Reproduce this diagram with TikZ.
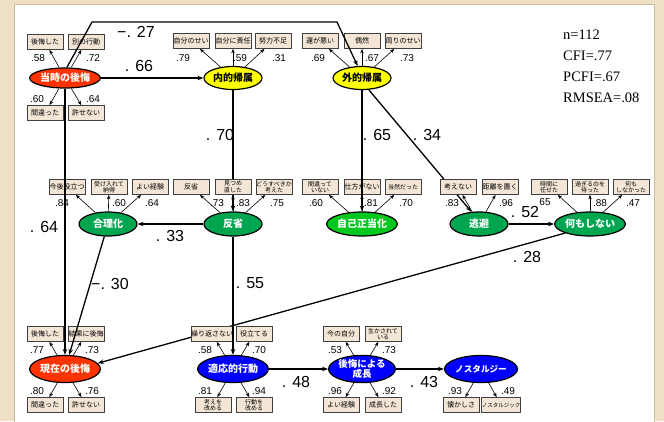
\documentclass[tikz,border=0pt]{standalone}
\usepackage{fontspec}
\setmainfont{Liberation Sans}
\newfontfamily\jp{Noto Sans CJK JP}
\newfontfamily\statfont{Liberation Serif}
\usetikzlibrary{shapes.geometric,arrows.meta}

\definecolor{bgbeige}{HTML}{EFE0C5}
\definecolor{panelline}{HTML}{CDBD9F}
\definecolor{boxfill}{HTML}{F3E6D6}
\definecolor{latred}{HTML}{FF3300}
\definecolor{latyellow}{HTML}{FFFF00}
\definecolor{latgreen}{HTML}{00A64F}
\definecolor{latgreenb}{HTML}{00C81E}
\definecolor{latblue}{HTML}{0000FF}

\pgfdeclarelayer{back}
\pgfsetlayers{back,main}

\tikzset{
  obs/.style={draw=black!75, fill=boxfill, line width=0.7pt,
    minimum width=36pt, minimum height=15pt, inner sep=0pt,
    font=\jp\fontsize{7}{7.5}\selectfont, align=center},
  obstwo/.style={obs, font=\jp\fontsize{6}{6.4}\selectfont},
  lat/.style={ellipse, draw=black, line width=1.2pt,
    minimum width=58pt, minimum height=24pt, inner sep=0pt,
    font=\jp\bfseries\fontsize{10}{10.5}\selectfont, text=white, align=center},
  latred/.style={lat, fill=latred},
  latyel/.style={lat, fill=latyellow, text=black},
  latgrn/.style={lat, fill=latgreen},
  latblu/.style={lat, fill=latblue, minimum height=27pt},
  ind/.style={-{Stealth[length=4.5pt,width=3.5pt]}, line width=0.6pt},
  pth/.style={-{Stealth[length=6pt,width=4.5pt]}, line width=1.3pt},
  ld/.style={font=\fontsize{10}{10}\selectfont, inner sep=0pt},
  coef/.style={font=\fontsize{16}{16}\selectfont, inner sep=0pt},
}

\begin{document}
\begin{tikzpicture}[x=1pt,y=-1pt]
\useasboundingbox (0,0) rectangle (664,421);

% page backdrop and white panel
\begin{pgfonlayer}{back}
  \fill[bgbeige] (0,0) rectangle (664,421);
  \filldraw[fill=white, draw=panelline, line width=0.8pt] (14,4) rectangle (654,425);
\end{pgfonlayer}

% ---------- latent variables ----------
\node[latred, minimum height=20pt] (t1) at (65,78) {当時の後悔};
\node[latyel, minimum height=23pt] (int) at (233,78) {内的帰属};
\node[latyel, minimum height=23pt] (gai) at (362,78) {外的帰属};

\node[latgrn] (gou) at (108,224) {合理化};
\node[latgrn] (han) at (233,224) {反省};
\node[latgrn, fill=latgreenb] (jik) at (362,224) {自己正当化};
\node[latgrn] (tou) at (479,224) {逃避};
\node[latgrn] (nan) at (590,224) {何もしない};

\node[latred, minimum height=27pt] (gen) at (65,369) {現在の後悔};
\node[latblu, minimum width=61pt] (tek) at (233,369) {適応的行動};
\node[latblu, minimum width=59pt, font=\jp\bfseries\fontsize{9.5}{10}\selectfont] (sei) at (362,369) {後悔による\\成長};
\node[latblu, font=\jp\bfseries\fontsize{8.6}{9}\selectfont] (nos) at (481,369) {ノスタルジー};

% ---------- observed variables ----------
\node[obs] (t1a) at (45,42) {後悔した};
\node[obs] (t1b) at (86,42) {別の行動};
\node[obs] (t1c) at (45,113) {間違った};
\node[obs] (t1d) at (86,113) {許せない};

\node[obs] (in1) at (191,41) {自分のせい};
\node[obs] (in2) at (233,41) {自分に責任};
\node[obs] (in3) at (273,41) {努力不足};

\node[obs] (ga1) at (320,41) {運が悪い};
\node[obs] (ga2) at (362,41) {偶然};
\node[obs] (ga3) at (403,41) {周りのせい};

\node[obs] (go1) at (67,187) {今後役立つ};
\node[obstwo] (go2) at (109,187) {受け入れて\\納得};
\node[obs] (go3) at (150,187) {よい経験};

\node[obs] (ha1) at (191,187) {反省};
\node[obstwo] (ha2) at (233,187) {見つめ\\直した};
\node[obstwo] (ha3) at (274,187) {どうすべきか\\考えた};

\node[obstwo] (ji1) at (320,187) {間違って\\いない};
\node[obs] (ji2) at (362,187) {仕方がない};
\node[obstwo] (ji3) at (403,187) {当然だった};

\node[obs] (to1) at (458,187) {考えない};
\node[obs] (to2) at (500,187) {距離を置く};

\node[obstwo] (na1) at (549,187) {時間に\\任せた};
\node[obstwo] (na2) at (590,187) {過ぎるのを\\待った};
\node[obstwo] (na3) at (631,187) {何も\\しなかった};

\node[obs] (ge1) at (45,334) {後悔した};
\node[obs] (ge2) at (86,334) {結果に後悔};
\node[obs] (ge3) at (45,405) {間違った};
\node[obs] (ge4) at (86,405) {許せない};

\node[obs] (te1) at (212,334) {繰り返さない};
\node[obs] (te2) at (254,334) {役立てる};
\node[obstwo] (te3) at (213,405) {考えを\\改める};
\node[obstwo] (te4) at (254,405) {行動を\\改める};

\node[obs] (se1) at (341,334) {今の自分};
\node[obstwo] (se2) at (383,334) {生かされて\\いる};
\node[obs] (se3) at (341,405) {よい経験};
\node[obs] (se4) at (383,405) {成長した};

\node[obs] (no1) at (461,405) {懐かしさ};
\node[obstwo, font=\jp\fontsize{5.5}{6}\selectfont] (no2) at (501,405) {ノスタルジック};

% ---------- structural paths that pass behind boxes ----------
\begin{pgfonlayer}{back}
  \draw[pth] (int) -- (han);
  \draw[pth] (gai.-60) -- (tou.122);
  \draw[pth] (nan.200) -- (gen.10);
\end{pgfonlayer}

% ---------- structural paths ----------
\coordinate (bendA) at (92,22);
\coordinate (bendB) at (337,22);
\draw[pth] (t1.80) -- (bendA) -- (bendB) -- (gai.110);
\draw[pth] (t1) -- (int);
\draw[pth] (gai) -- (jik);
\draw[pth] (han) -- (gou);
\draw[pth] (tou) -- (nan);
\draw[pth] (t1) -- (gen);
\draw[pth] (gou) -- (gen);
\draw[pth] (han) -- (tek);
\draw[pth] (tek) -- (sei);
\draw[pth] (sei) -- (nos);

% ---------- measurement arrows ----------
\foreach \l/\o in {t1/t1a,t1/t1b,t1/t1c,t1/t1d,
                   int/in1,int/in2,int/in3,gai/ga1,gai/ga2,gai/ga3,
                   gou/go1,gou/go2,gou/go3,han/ha1,han/ha2,han/ha3,
                   jik/ji1,jik/ji2,jik/ji3,tou/to1,tou/to2,
                   nan/na1,nan/na2,nan/na3,
                   gen/ge1,gen/ge2,gen/ge3,gen/ge4,
                   tek/te1,tek/te2,tek/te3,tek/te4,
                   sei/se1,sei/se2,sei/se3,sei/se4,
                   nos/no1,nos/no2}
  \draw[ind] (\l) -- (\o);

% ---------- loadings ----------
\node[ld] at (38,58) {.58};   \node[ld] at (93,58) {.72};
\node[ld] at (37,99) {.60};   \node[ld] at (93,99) {.64};
\node[ld] at (183,58) {.79};  \node[ld] at (240,58) {.59};  \node[ld] at (279,58) {.31};
\node[ld] at (318,58) {.69};  \node[ld] at (372,58) {.67};  \node[ld] at (407,58) {.73};
\node[ld] at (62,203) {.84};  \node[ld] at (119,203) {.60}; \node[ld] at (152,203) {.64};
\node[ld] at (217,203) {.73}; \node[ld] at (243,203) {.83}; \node[ld] at (277,203) {.75};
\node[ld] at (316,203) {.60}; \node[ld] at (371,203) {.81}; \node[ld] at (406,203) {.70};
\node[ld] at (452,203) {.83}; \node[ld] at (506,203) {.96};
\node[ld] at (545,202) {65};  \node[ld] at (600,203) {.88}; \node[ld] at (633,203) {.47};
\node[ld] at (37,350) {.77};  \node[ld] at (92,350) {.73};
\node[ld] at (37,391) {.80};  \node[ld] at (92,391) {.76};
\node[ld] at (205,350) {.58}; \node[ld] at (259,350) {.70};
\node[ld] at (205,391) {.81}; \node[ld] at (259,391) {.94};
\node[ld] at (335,350) {.53}; \node[ld] at (389,350) {.73};
\node[ld] at (335,391) {.96}; \node[ld] at (389,391) {.92};
\node[ld] at (455,391) {.93}; \node[ld] at (508,391) {.49};

% ---------- path coefficients ----------
\node[coef] at (136,32) {−. 27};
\node[coef] at (139,66) {. 66};
\node[coef] at (220,135) {. 70};
\node[coef] at (377,135) {. 65};
\node[coef] at (427,135) {. 34};
\node[coef] at (44,227) {. 64};
\node[coef] at (170,236) {. 33};
\node[coef] at (525,212) {. 52};
\node[coef] at (110,284) {−. 30};
\node[coef] at (250,283) {. 55};
\node[coef] at (527,257) {. 28};
\node[coef] at (296,382) {. 48};
\node[coef] at (424,382) {. 43};

% ---------- fit indices ----------
\node[anchor=west, inner sep=0pt, align=left,
      font=\statfont\fontsize{14.5}{21}\selectfont] (fit) at (563,66)
  {n=112\\CFI=.77\\PCFI=.67\\RMSEA=.08};
\end{tikzpicture}
\end{document}
